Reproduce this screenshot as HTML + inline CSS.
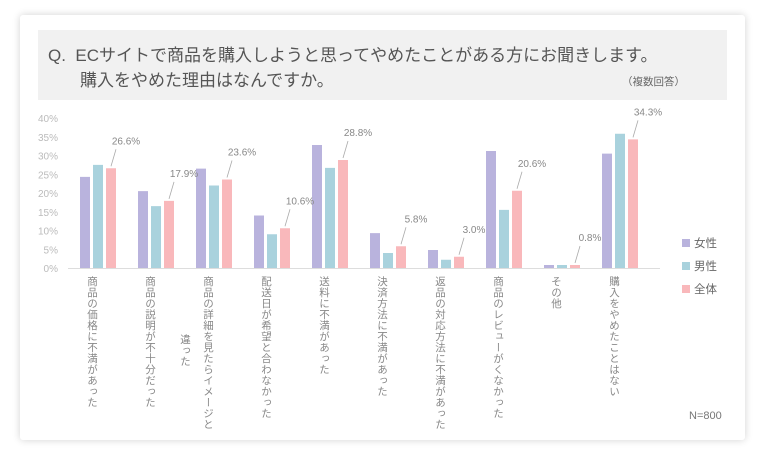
<!DOCTYPE html>
<html><head><meta charset="utf-8">
<style>
body{margin:0;width:765px;height:464px;background:#fff;font-family:"Liberation Sans","Noto Sans CJK JP",sans-serif;overflow:hidden;position:relative}
#card{position:absolute;left:20px;top:15px;width:725px;height:425px;background:#fff;box-shadow:0 0 8px rgba(0,0,0,0.18);border-radius:3px}
#qbox{position:absolute;left:38px;top:30px;width:689px;height:70px;background:#f1f1f1}
.t{position:absolute;color:#555;font-size:17px;white-space:nowrap}
.vl{position:absolute;writing-mode:vertical-rl;font-size:10.5px;color:#888;top:276px;letter-spacing:0.5px;white-space:nowrap;line-height:12px}
</style></head><body>
<div id="card"></div>
<div id="qbox"></div>
<div class="t" style="left:48px;top:41px">Q.&nbsp; ECサイトで商品を購入しようと思ってやめたことがある方にお聞きします。</div>
<div class="t" style="left:80px;top:66px">購入をやめた理由はなんですか。</div>
<div class="t" style="left:622px;top:74px;font-size:10.5px;color:#666">（複数回答）</div>
<svg id="chart" width="765" height="464" style="position:absolute;left:0;top:0"></svg>
<div id="labels"></div>
<div class="vl" style="left:179px;top:334px">違った</div>
<div class="t" style="left:689px;top:410px;font-size:11px;color:#777">N=800</div>
<script>
const categories=["商品の価格に不満があった","商品の説明が不十分だった","商品の詳細を見たらイメージと","配送日が希望と合わなかった","送料に不満があった","決済方法に不満があった","返品の対応方法に不満があった","商品のレビューがくなかった","その他","購入をやめたことはない"];
const female=[24.3,20.5,26.5,14.0,32.8,9.3,4.8,31.2,0.8,30.5];
const male=[27.5,16.5,22.0,9.0,26.7,4.0,2.2,15.5,0.8,35.8];
const total=[26.6,17.9,23.6,10.6,28.8,5.8,3.0,20.6,0.8,34.3];
const yTicks=[0,5,10,15,20,25,30,35,40];
const seriesNames=["女性","男性","全体"];
const colors=["#b9b3dd","#a9d2dd","#f9b8bb"];
const svg=document.getElementById('chart');const NS="http://www.w3.org/2000/svg";
const y=v=>268-v*3.75;
const gx=i=>80+i*58;
function mk(t,a){const e=document.createElementNS(NS,t);for(const k in a)e.setAttribute(k,a[k]);svg.appendChild(e);return e;}
yTicks.forEach(v=>{const t=mk('text',{x:58,y:y(v)+4,'text-anchor':'end','font-size':10,fill:'#bbb','font-family':'Liberation Sans,sans-serif'});t.textContent=v+'%';

});
const ax=mk('line',{x1:68,x2:660,y1:268.5,y2:268.5,stroke:'#ddd'});


[female,male,total].forEach((s,si)=>{s.forEach((v,i)=>{const r=mk('rect',{x:gx(i)+si*13,y:y(v),width:10,height:268-y(v),fill:colors[si]});

});});
total.forEach((v,i)=>{const bx=gx(i)+26+5,by=y(v);const lx=bx+5,ly=by-24;
const l=mk('line',{x1:bx,y1:by-2,x2:lx,y2:ly+5,stroke:'#aaa','stroke-width':0.8});


const t=mk('text',{x:lx+10,y:ly,'text-anchor':'middle','font-size':10,fill:'#888','font-family':'Liberation Sans,sans-serif'});t.textContent=v.toFixed(1)+'%';

});
seriesNames.forEach((n,i)=>{const r=mk('rect',{x:682,y:239+i*23,width:8,height:8,fill:colors[i]});


const t=mk('text',{x:694,y:247+i*23,'font-size':11.5,fill:'#666','font-family':'Noto Sans CJK JP,sans-serif'});t.textContent=n;

});
const lab=document.getElementById('labels');
categories.forEach((c,i)=>{const d=document.createElement('div');d.className='vl';d.textContent=c;


lab.appendChild(d);const w=d.offsetWidth;d.style.left=(gx(i)+12-w/2)+'px';});
</script>
</body></html>
